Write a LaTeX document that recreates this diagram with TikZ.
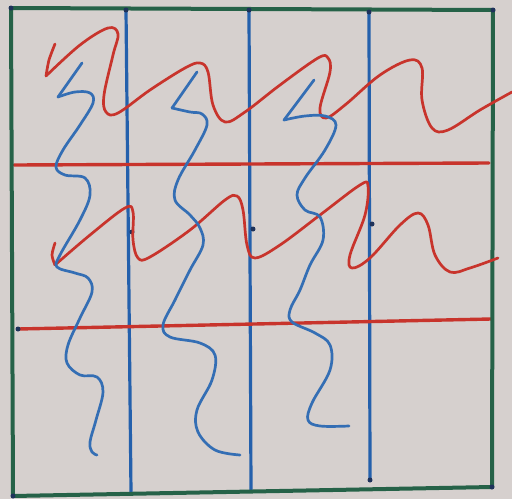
\documentclass[tikz,border=0pt]{standalone}
\begin{document}
\begin{tikzpicture}[x=1pt,y=-1pt,
  paper/.style={fill=papercol,draw=none},
  frame/.style={draw=greencol,line width=4pt,line cap=round,line join=round},
  vline/.style={draw=bluecol,line width=3.2pt,line cap=round},
  hline/.style={draw=redcol,line width=3.4pt,line cap=round},
  rwave/.style={draw=redcol,line width=2.7pt,line cap=round,line join=round},
  bwave/.style={draw=bluecol2,line width=2.7pt,line cap=round,line join=round},
  dotb/.style={fill=bluedark,draw=none},
]
\definecolor{papercol}{RGB}{214,208,206}
\definecolor{greencol}{RGB}{38,98,72}
\definecolor{bluecol}{RGB}{36,96,172}
\definecolor{bluecol2}{RGB}{52,110,180}
\definecolor{redcol}{RGB}{200,52,44}
\definecolor{bluedark}{RGB}{30,50,90}
\path[paper] (0,0) rectangle (512,499);
\useasboundingbox (0,0) rectangle (512,499);
% blue verticals
\draw[vline] (126,10) -- (131,492);
\draw[vline] (249,10) -- (251,490);
\draw[vline] (369,12) -- (370,480);
% red horizontals
\draw[hline] (14,165) -- (489,163);
\draw[hline] (18,329) -- (491,319);
% frame
\draw[frame] (11,8) -- (493,10) -- (492,487) -- (13,496) -- cycle;
% dots
\foreach \p in {(126,10),(249,10),(369,12),(370,480),(132,232),(253,229),(372,224),(18,329),(11,8),(493,10),(492,487),(13,496)}
  \fill[dotb] \p circle (2.5pt);
% red top wave
\draw[rwave] plot[smooth,tension=0.5] coordinates {(55,44) (49,60) (46,76)};
\draw[rwave] plot[smooth,tension=0.6] coordinates {(46,76) (80,45) (108,28) (118,34) (113,55) (104,95) (106,112) (118,113) (150,90) (185,68) (200,63) (208,72) (213,105) (225,122) (245,112) (280,85) (318,58) (328,58) (330,72) (320,108) (326,118) (345,105) (380,75) (410,60) (422,68) (422,100) (432,128) (448,130) (480,110) (512,92)};
% red middle wave
\draw[rwave] plot[smooth,tension=0.5] coordinates {(55,243) (52,255) (55,265)};
\draw[rwave] plot[smooth,tension=0.6] coordinates {(55,265) (90,235) (125,208) (133,212) (133,240) (138,258) (150,257) (190,230) (225,200) (237,196) (243,210) (247,245) (255,258) (280,245) (320,215) (360,185) (368,186) (365,215) (350,255) (352,268) (370,258) (400,225) (418,213) (428,225) (435,255) (450,272) (470,268) (498,258)};
% blue wave 1
\draw[bwave] (82,63) -- (58,97);
\draw[bwave] plot[smooth,tension=0.6] coordinates {(58,97) (75,92) (90,93) (93,103) (80,125) (63,150) (56,167) (65,175) (85,178) (90,195) (80,220) (60,255) (57,267) (75,273) (88,278) (92,292) (80,318) (68,345) (67,363) (80,375) (97,377) (103,392) (96,420) (90,442) (92,452) (97,455)};
% blue wave 2
\draw[bwave] (197,72) -- (172,108);
\draw[bwave] plot[smooth,tension=0.6] coordinates {(172,108) (190,112) (202,114) (207,125) (195,150) (178,180) (175,200) (190,215) (200,228) (203,245) (190,270) (175,300) (163,325) (170,337) (200,343) (215,355) (212,380) (197,410) (198,432) (215,450) (240,455)};
% blue wave 3
\draw[bwave] (314,80) -- (284,120);
\draw[bwave] plot[smooth,tension=0.6] coordinates {(284,120) (305,116) (325,116) (336,125) (325,150) (305,178) (297,195) (305,210) (320,217) (323,240) (310,265) (300,290) (290,310) (292,322) (315,333) (330,345) (330,370) (312,403) (308,420) (320,426) (349,426)};
\end{tikzpicture}
\end{document}
